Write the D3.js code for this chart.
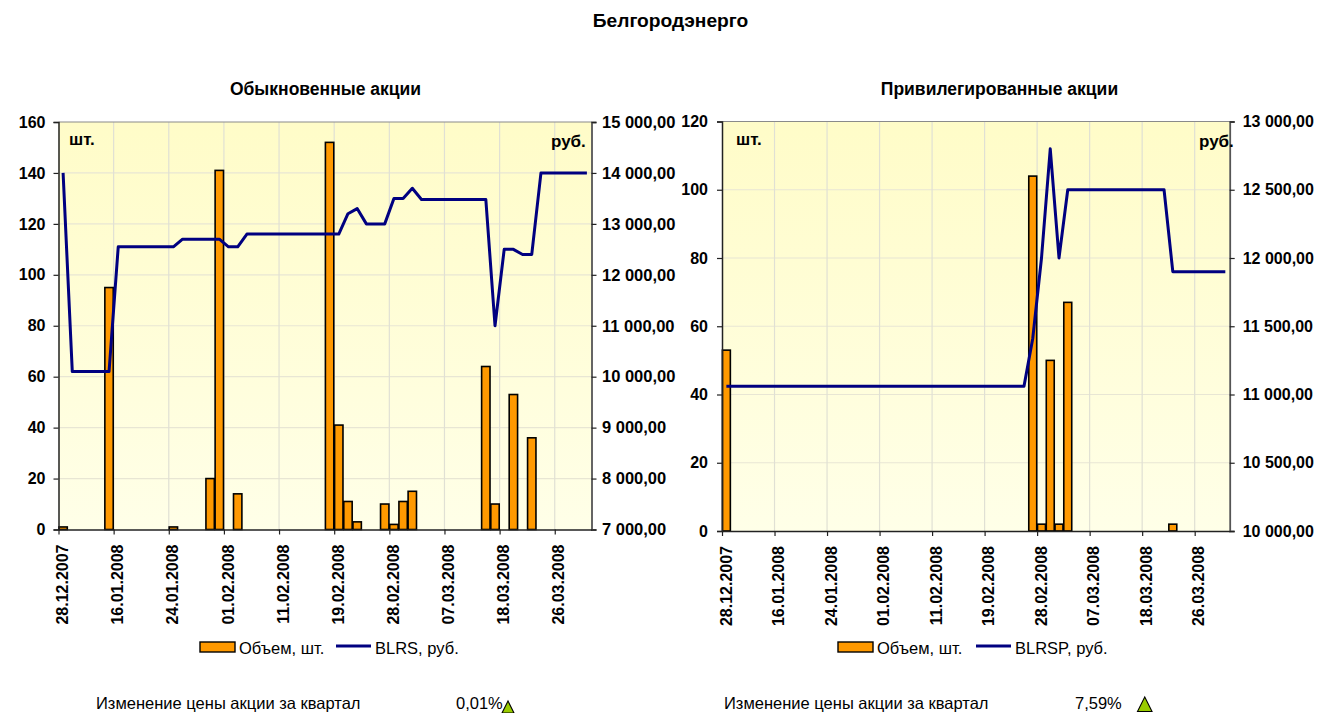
<!DOCTYPE html>
<html><head><meta charset="utf-8">
<script src="https://cdn.jsdelivr.net/npm/d3@7/dist/d3.min.js"></script>
<style>
html,body{margin:0;padding:0;background:#fff}
svg{display:block}
text{font-family:"Liberation Sans",Arial,sans-serif;fill:#000}
</style></head><body>
<svg id="c" width="1319" height="713"></svg>
<script>
const tickLabels = ["28.12.2007","16.01.2008","24.01.2008","01.02.2008","11.02.2008","19.02.2008","28.02.2008","07.03.2008","18.03.2008","26.03.2008"];
const volumeCommon = [1,0,0,0,0,95,0,0,0,0,0,0,1,0,0,0,20,141,0,14,0,0,0,0,0,0,0,0,0,152,41,11,3,0,0,10,2,11,15,0,0,0,0,0,0,0,64,10,0,53,0,36,0,0,0,0,0,0];
const priceCommon = [14000,10100,10100,10100,10100,10100,12550,12550,12550,12550,12550,12550,12550,12700,12700,12700,12700,12700,12550,12550,12800,12800,12800,12800,12800,12800,12800,12800,12800,12800,12800,13200,13300,13000,13000,13000,13500,13500,13700,13480,13480,13480,13480,13480,13480,13480,13480,11000,12500,12500,12400,12400,14000,14000,14000,14000,14000,14000];
const volumePreferred = [53,0,0,0,0,0,0,0,0,0,0,0,0,0,0,0,0,0,0,0,0,0,0,0,0,0,0,0,0,0,0,0,0,0,0,104,2,50,2,67,0,0,0,0,0,0,0,0,0,0,0,2,0,0,0,0,0,0];
const pricePreferred = [11060,11060,11060,11060,11060,11060,11060,11060,11060,11060,11060,11060,11060,11060,11060,11060,11060,11060,11060,11060,11060,11060,11060,11060,11060,11060,11060,11060,11060,11060,11060,11060,11060,11060,11060,11410,12000,12800,12000,12500,12500,12500,12500,12500,12500,12500,12500,12500,12500,12500,12500,11900,11900,11900,11900,11900,11900,11900];
const volTicksCommon = [0,20,40,60,80,100,120,140,160];
const priceTicksCommon = [7000,8000,9000,10000,11000,12000,13000,14000,15000];
const volTicksPreferred = [0,20,40,60,80,100,120];
const priceTicksPreferred = [10000,10500,11000,11500,12000,12500,13000];

const svg = d3.select("#c");
const defs = svg.append("defs");
const g = defs.append("linearGradient").attr("id","bg").attr("x1",0).attr("x2",0).attr("y1",0).attr("y2",1);
g.append("stop").attr("offset",0).attr("stop-color","#fffcc8");
g.append("stop").attr("offset",1).attr("stop-color","#ffffe8");

const fmt = v => { const s = String(v); return s.slice(0,-3)+" "+s.slice(-3)+",00"; };
const txt = (x,y,t,o={}) => svg.append("text").attr("x",x).attr("y",y).text(t)
  .attr("font-size",o.size||14).attr("font-weight",o.bold?"bold":"normal").attr("text-anchor",o.anchor||"start");

function panel(o){
  const n = o.vol.length;
  const x = d3.scaleBand().domain(d3.range(n)).range([o.l,o.r]);
  const yV = d3.scaleLinear().domain([0,d3.max(o.volTicks)]).range([o.b,o.t]);
  const yP = d3.scaleLinear().domain(d3.extent(o.priceTicks)).range([o.b,o.t]);
  const tickIdx = o.vol.map((_,i)=>i).filter(i=>i%6===0);
  const p = svg.append("g");
  p.append("rect").attr("x",o.l).attr("y",o.t).attr("width",o.r-o.l).attr("height",o.b-o.t).attr("fill","url(#bg)");
  p.append("g").selectAll("line").data(o.volTicks.slice(1,-1)).join("line")
    .attr("x1",o.l).attr("x2",o.r).attr("y1",d=>yV(d)).attr("y2",d=>yV(d)).attr("stroke","#e8e6d4").attr("stroke-width",1.2);
  p.append("g").selectAll("line").data(tickIdx.slice(1)).join("line")
    .attr("x1",d=>x(d)).attr("x2",d=>x(d)).attr("y1",o.t).attr("y2",o.b).attr("stroke","#e0e0d4").attr("stroke-width",1.2);
  p.append("line").attr("x1",o.l).attr("x2",o.r).attr("y1",o.t).attr("y2",o.t).attr("stroke","#8a8a8a").attr("stroke-width",1.2);
  p.append("g").selectAll("rect").data(o.vol.map((v,i)=>({v,i})).filter(d=>d.v>0)).join("rect")
    .attr("x",d=>x(d.i)+.4).attr("width",x.bandwidth()-.8).attr("y",d=>yV(d.v)).attr("height",d=>o.b-yV(d.v))
    .attr("fill","#ff9900").attr("stroke","#000").attr("stroke-width",1.6);
  const line = d3.line().x((d,i)=>x(i)+x.bandwidth()/2).y(d=>yP(d));
  p.append("path").datum(o.price).attr("d",line).attr("fill","none").attr("stroke","#000080").attr("stroke-width",3).attr("stroke-linejoin","round");

  const axL = p.append("g").attr("transform",`translate(${o.l},0)`).call(d3.axisLeft(yV).tickValues(o.volTicks).tickSize(5).tickPadding(o.padL));
  const axR = p.append("g").attr("transform",`translate(${o.r},0)`).call(d3.axisRight(yP).tickValues(o.priceTicks).tickFormat(fmt).tickSize(5).tickPadding(o.padR));
  const xTick = d3.scaleLinear().domain([0,n]).range([o.l,o.r]);
  const axB = p.append("g").attr("transform",`translate(0,${o.b})`).call(d3.axisBottom(xTick).tickValues(tickIdx).tickFormat((d,i)=>tickLabels[i]).tickSize(5).tickSizeOuter(0));
  [axL,axR,axB].forEach(a=>{a.selectAll("text").attr("font-size",o.fs).attr("font-weight","bold").attr("font-family",'"Liberation Sans"').attr("fill","#000");
    a.selectAll("line").attr("stroke","#222").attr("stroke-width",1.2);
    a.select(".domain").attr("stroke","#222").attr("stroke-width",1.5);});
  axR.selectAll("text").attr("font-size",o.fsR);
  axR.select(".domain").attr("stroke","#555").attr("stroke-width",1.8);
  axB.selectAll("text").attr("transform",`translate(${o.lblDx},${o.lblTop}) rotate(-90)`).attr("x",0).attr("y",0).attr("dy","0.35em").attr("text-anchor","end");

  txt(o.subX,95,o.sub,{bold:true,anchor:"middle",size:17.5});
  txt(o.shtX,o.t+23,"шт.",{bold:true,size:17});
  txt(o.rubX,o.t+25,"руб.",{bold:true,size:17});

  const lg = o.leg;
  svg.append("rect").attr("x",lg.r).attr("y",642).attr("width",35).attr("height",10).attr("fill","#ff9900").attr("stroke","#000").attr("stroke-width",1.4);
  txt(lg.r+39,654,"Объем, шт.",{size:16.5});
  svg.append("line").attr("x1",lg.l).attr("x2",lg.l+35).attr("y1",646).attr("y2",646).attr("stroke","#000080").attr("stroke-width",3);
  txt(lg.l+39,654,o.legName,{size:16.5});

  txt(o.chgX,708.5,"Изменение цены акции за квартал",{size:16.5});
  txt(o.pctX,708.5,o.pct,{size:16.5});
  const c=o.tri, s=o.triSize;
  svg.append("path").attr("d",d3.line()([[c[0],c[1]+s],[c[0]+s/2,c[1]],[c[0]+s,c[1]+s]])+"Z").attr("fill","#99cc00").attr("stroke","#000").attr("stroke-width",1.1);
}

txt(670.5,27,"Белгородэнерго",{bold:true,anchor:"middle",size:19.2});
panel({vol:volumeCommon,price:priceCommon,volTicks:volTicksCommon,priceTicks:priceTicksCommon,
  l:58.5,r:591.5,t:122,b:529.5,fs:16,fsR:16.5,padL:8,padR:5.5,lblDx:3.5,lblTop:15,sub:"Обыкновенные акции",subX:325.5,shtX:69,rubX:551,
  leg:{r:200,l:336},legName:"BLRS, руб.",chgX:96,pct:"0,01%",pctX:456,tri:[502,701],triSize:12});
panel({vol:volumePreferred,price:pricePreferred,volTicks:volTicksPreferred,priceTicks:priceTicksPreferred,
  l:722,r:1229.7,t:121.5,b:531,fs:16,fsR:16,padL:9,padR:8,lblDx:3.5,lblTop:15,sub:"Привилегированные акции",subX:999.5,shtX:736,rubX:1199,
  leg:{r:838,l:976},legName:"BLRSP, руб.",chgX:724,pct:"7,59%",pctX:1075,tri:[1137.5,697],triSize:14.5});
</script></body></html>
